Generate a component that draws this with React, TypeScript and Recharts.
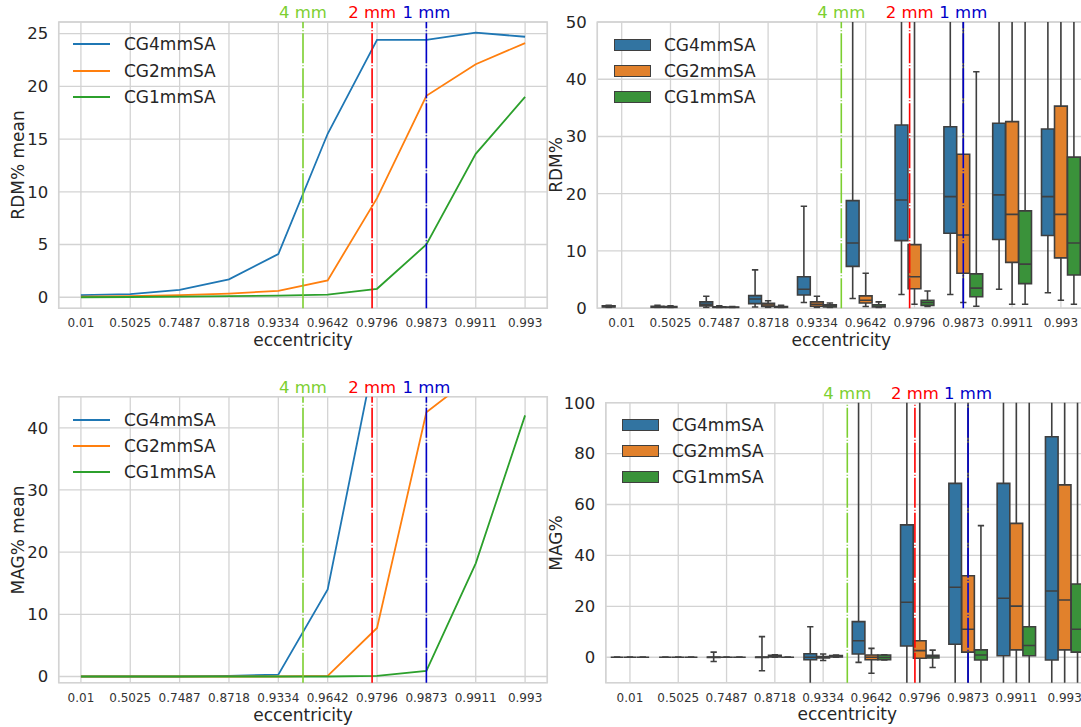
import React from 'react';
import {
  ComposedChart,
  Line,
  XAxis,
  YAxis,
  CartesianGrid,
  ReferenceLine,
  ReferenceArea,
} from 'recharts';

const eccentricities = ['0.01', '0.5025', '0.7487', '0.8718', '0.9334', '0.9642', '0.9796', '0.9873', '0.9911', '0.993'];
const seriesNames = ['CG4mmSA', 'CG2mmSA', 'CG1mmSA'];
const lineColors = ['#1f77b4', '#ff7f0e', '#2ca02c'];
const boxColors = ['#3274a1', '#e1812c', '#3a923a'];

// mean curves
const rdmMeanCG4 = [0.2, 0.3, 0.7, 1.7, 4.1, 15.5, 24.4, 24.4, 25.1, 24.7];
const rdmMeanCG2 = [0.05, 0.1, 0.2, 0.35, 0.6, 1.6, 9.4, 19.1, 22.1, 24.1];
const rdmMeanCG1 = [0.0, 0.02, 0.05, 0.1, 0.15, 0.25, 0.8, 5.0, 13.6, 19.0];

const magMeanCG4 = [0, 0, 0, 0.1, 0.3, 14, 53.5, 60, 62, 65];
const magMeanCG2 = [0, 0, 0, 0, 0, 0.1, 7.8, 42.5, 48.6, 52];
const magMeanCG1 = [0, 0, 0, 0, 0, 0, 0.1, 0.9, 18.2, 42];

// box stats: [whisker low, q1, median, q3, whisker high]
type Box = number[] | null;
const rdmBoxCG4: Box[] = [
  [0.1, 0.2, 0.3, 0.4, 0.5], [0.1, 0.15, 0.25, 0.35, 0.5], [0.1, 0.4, 0.7, 1.1, 2.1],
  [0.2, 0.8, 1.6, 2.2, 6.7], [1.0, 2.3, 3.3, 5.5, 17.8], [1.7, 7.3, 11.4, 18.8, 60],
  [2.4, 11.8, 18.9, 32.0, 70], [2.4, 13.1, 19.5, 31.7, 70], [3.3, 12.0, 19.8, 32.3, 70],
  [2.7, 12.7, 19.5, 31.3, 70],
];
const rdmBoxCG2: Box[] = [
  null, [0.05, 0.1, 0.2, 0.3, 0.4], [0.05, 0.1, 0.15, 0.25, 0.4],
  [0.1, 0.3, 0.55, 0.85, 1.3], [0.1, 0.35, 0.7, 1.1, 2.1], [0.3, 0.9, 1.4, 2.15, 6.1],
  [0.7, 3.4, 5.5, 11.1, 65], [1.0, 6.1, 12.8, 26.9, 55], [0.7, 8.0, 16.4, 32.6, 70],
  [1.4, 8.8, 16.4, 35.3, 70],
];
const rdmBoxCG1: Box[] = [
  null, null, [0.05, 0.1, 0.12, 0.2, 0.3],
  [0.05, 0.1, 0.2, 0.3, 0.5], [0.05, 0.2, 0.4, 0.6, 0.9], [0.05, 0.2, 0.35, 0.6, 1.1],
  [0.3, 0.5, 1.0, 1.4, 3.0], [0.35, 2.0, 3.5, 6.0, 41.3], [0.7, 4.3, 7.7, 17.0, 60],
  [0.7, 5.8, 11.4, 26.4, 60],
];

const magBoxCG4: Box[] = [
  [0, 0, 0, 0, 0], [0, 0, 0, 0, 0], [-1.7, -0.1, 0, 0.1, 2.0],
  [-5.3, -0.1, 0, 0.1, 8.1], [-12, -1.0, 0, 1.4, 12.0], [-2, 1.3, 6.5, 14.0, 150],
  [-12, 4.4, 21.6, 52.0, 150], [-12, 5.1, 27.5, 68.3, 150], [-12, 0.6, 23.2, 68.3, 150],
  [-12, -1.1, 26.0, 86.6, 150],
];
const magBoxCG2: Box[] = [
  [0, 0, 0, 0, 0], [0, 0, 0, 0, 0], [0, 0, 0, 0, 0],
  [0, 0.1, 0.4, 0.8, 1.0], [-1.3, -0.3, 0, 0.3, 1.3], [-6.3, -1.0, 0, 0.9, 3.5],
  [-12, -0.4, 2.6, 6.5, 150], [-12, 2.0, 11.0, 32.0, 150], [-12, 2.9, 20.1, 52.6, 150],
  [-12, 2.9, 22.5, 67.7, 150],
];
const magBoxCG1: Box[] = [
  [0, 0, 0, 0, 0], [0, 0, 0, 0, 0], [0, 0, 0, 0, 0],
  [0, 0, 0, 0, 0], [0, 0.1, 0.4, 0.7, 0.9], [-1.1, -1.0, -0.1, 0.9, 1.0],
  [-4.0, -0.3, 0.3, 0.8, 2.8], [-12, -1.1, 0.9, 2.9, 51.7], [-12, 0.6, 4.6, 12.0, 150],
  [-12, 2.0, 11.0, 28.8, 150],
];

// resolution thresholds, in category units
const mmPositions = [4.5, 5.9, 7.0];
const mmLabels = ['4 mm', '2 mm', '1 mm'];
const mmColors = ['#7ccf30', '#ff0000', '#0000c8'];

const rdmMeanTicks = [0, 5, 10, 15, 20, 25];
const rdmBoxTicks = [0, 10, 20, 30, 40, 50];
const magMeanTicks = [0, 10, 20, 30, 40];
const magBoxTicks = [0, 20, 40, 60, 80, 100];

const TEXT = '#262626';
const GRID = '#d3d3d3';
const EDGE = '#3f3f3f';
const HUE_WIDTH = 0.8 / 3;
const FONT = '"DejaVu Sans", sans-serif';

const catTicks = eccentricities.map((_, i) => i);

const meanData = (a: number[], b: number[], c: number[]) =>
  eccentricities.map((_, i) => ({ x: i, cg4: a[i], cg2: b[i], cg1: c[i] }));
const rdmMeanData = meanData(rdmMeanCG4, rdmMeanCG2, rdmMeanCG1);
const magMeanData = meanData(magMeanCG4, magMeanCG2, magMeanCG1);
const catData = eccentricities.map((_, i) => ({ x: i }));

const renderLines = () =>
  ['cg4', 'cg2', 'cg1'].map((key, i) => (
    <Line
      key={key}
      type="linear"
      dataKey={key}
      name={seriesNames[i]}
      stroke={lineColors[i]}
      strokeWidth={1.8}
      dot={false}
      activeDot={false}
      isAnimationActive={false}
    />
  ));

const renderBoxes = (groups: Box[][]) => {
  const half = (HUE_WIDTH * 0.98) / 2;
  const out: React.ReactNode[] = [];
  groups.forEach((series, h) => {
    series.forEach((b, i) => {
      if (!b) return;
      const [lo, q1, med, q3, hi] = b;
      const c = i + (h - 1) * HUE_WIDTH;
      const k = `${h}-${i}`;
      const edge = { stroke: EDGE, strokeWidth: 1.6, ifOverflow: 'hidden' as const };
      out.push(
        <ReferenceLine key={`lw${k}`} segment={[{ x: c, y: lo }, { x: c, y: q1 }]} {...edge} />,
        <ReferenceLine key={`hw${k}`} segment={[{ x: c, y: q3 }, { x: c, y: hi }]} {...edge} />,
        <ReferenceLine key={`lc${k}`} segment={[{ x: c - half / 2, y: lo }, { x: c + half / 2, y: lo }]} {...edge} />,
        <ReferenceLine key={`hc${k}`} segment={[{ x: c - half / 2, y: hi }, { x: c + half / 2, y: hi }]} {...edge} />,
        <ReferenceArea key={`bx${k}`} x1={c - half} x2={c + half} y1={q1} y2={q3} fill={boxColors[h]} fillOpacity={1} {...edge} />,
        <ReferenceLine key={`md${k}`} segment={[{ x: c - half, y: med }, { x: c + half, y: med }]} {...edge} />
      );
    });
  });
  return out;
};

type PanelProps = {
  left: number;
  top: number;
  width: number;
  height: number;
  plot: { x0: number; y0: number; x1: number; y1: number };
  xDomain: [number, number];
  yDomain: [number, number];
  yTicks: number[];
  data: any[];
  children: React.ReactNode;
};

const Panel = ({ left, top, width, height, plot, xDomain, yDomain, yTicks, data, children }: PanelProps) => {
  const axisH = 40;
  return (
    <div style={{ position: 'absolute', left, top, width, height }}>
      <ComposedChart
        width={width}
        height={height}
        data={data}
        margin={{ top: plot.y0 - top, right: left + width - plot.x1, bottom: top + height - plot.y1 - axisH, left: 0 }}
      >
        <CartesianGrid stroke={GRID} strokeWidth={1.3} />
        <XAxis
          dataKey="x"
          type="number"
          domain={xDomain}
          ticks={catTicks}
          interval={0}
          allowDataOverflow
          tickFormatter={(v) => eccentricities[v] ?? ''}
          axisLine={false}
          tickLine={false}
          tickSize={0}
          tickMargin={10.5}
          height={axisH}
          tick={{ fontSize: 12, fill: '#333333', fontFamily: FONT }}
        />
        <YAxis
          type="number"
          domain={yDomain}
          ticks={yTicks}
          interval={0}
          allowDataOverflow
          axisLine={false}
          tickLine={false}
          tickSize={0}
          tickMargin={10.5}
          width={plot.x0 - left}
          tick={{ fontSize: 16.5, fill: TEXT, fontFamily: FONT }}
        />
        <ReferenceArea
          x1={xDomain[0]}
          x2={xDomain[1]}
          y1={yDomain[0]}
          y2={yDomain[1]}
          fill="none"
          stroke={GRID}
          strokeWidth={1.5}
          ifOverflow="visible"
        />
        {children}
        {mmPositions.map((pos, i) => (
          <ReferenceLine
            key={mmLabels[i]}
            x={pos}
            stroke={mmColors[i]}
            strokeWidth={1.6}
            strokeDasharray="30 2 1 2"
            label={{ value: mmLabels[i], position: 'top', fill: mmColors[i], fontSize: 16.5, offset: 4, fontFamily: FONT }}
          />
        ))}
      </ComposedChart>
    </div>
  );
};

const LegendOverlay = ({ x, rows, textX, kind }: { x: number; rows: number[]; textX: number; kind: 'line' | 'box' }) => (
  <>
    {seriesNames.map((name, i) => (
      <React.Fragment key={name}>
        {kind === 'line' ? (
          <div style={{ position: 'absolute', left: x, top: rows[i] - 0.9, width: 37, height: 1.8, background: lineColors[i] }} />
        ) : (
          <div
            style={{
              position: 'absolute',
              left: x,
              top: rows[i] - 6,
              width: 37,
              height: 12,
              background: boxColors[i],
              border: `1.6px solid ${EDGE}`,
              boxSizing: 'border-box',
            }}
          />
        )}
        <div
          style={{
            position: 'absolute',
            left: textX,
            top: rows[i],
            transform: 'translateY(-50%)',
            fontSize: 17,
            lineHeight: 1,
            color: TEXT,
            whiteSpace: 'nowrap',
          }}
        >
          {name}
        </div>
      </React.Fragment>
    ))}
  </>
);

const Title = ({ x, y, text, vertical }: { x: number; y: number; text: string; vertical?: boolean }) => (
  <div
    style={{
      position: 'absolute',
      left: x,
      top: y,
      transform: `translate(-50%, -50%)${vertical ? ' rotate(-90deg)' : ''}`,
      fontSize: 17,
      lineHeight: 1,
      color: TEXT,
      whiteSpace: 'nowrap',
    }}
  >
    {text}
  </div>
);

export default function App() {
  return (
    <div
      style={{
        position: 'fixed',
        left: 0,
        top: 0,
        width: 1081,
        height: 727,
        overflow: 'hidden',
        background: '#ffffff',
        fontFamily: FONT,
      }}
    >
      <Panel
        left={0}
        top={0}
        width={560}
        height={360}
        plot={{ x0: 58.7, y0: 22, x1: 547.3, y1: 308.3 }}
        xDomain={[-0.45, 9.45]}
        yDomain={[-1.05, 26.1]}
        yTicks={rdmMeanTicks}
        data={rdmMeanData}
      >
        {renderLines()}
      </Panel>
      <Panel
        left={540}
        top={0}
        width={560}
        height={360}
        plot={{ x0: 597.3, y0: 22, x1: 1085.3, y1: 308.2 }}
        xDomain={[-0.5, 9.5]}
        yDomain={[0, 50]}
        yTicks={rdmBoxTicks}
        data={catData}
      >
        {renderBoxes([rdmBoxCG4, rdmBoxCG2, rdmBoxCG1])}
      </Panel>
      <Panel
        left={0}
        top={360}
        width={560}
        height={367}
        plot={{ x0: 58.7, y0: 396.7, x1: 547.3, y1: 682.7 }}
        xDomain={[-0.45, 9.45]}
        yDomain={[-1, 45]}
        yTicks={magMeanTicks}
        data={magMeanData}
      >
        {renderLines()}
      </Panel>
      <Panel
        left={540}
        top={360}
        width={560}
        height={367}
        plot={{ x0: 605.8, y0: 402.7, x1: 1088.8, y1: 682.7 }}
        xDomain={[-0.5, 9.5]}
        yDomain={[-10, 100]}
        yTicks={magBoxTicks}
        data={catData}
      >
        {renderBoxes([magBoxCG4, magBoxCG2, magBoxCG1])}
      </Panel>

      <LegendOverlay kind="line" x={73.3} rows={[44.3, 70.7, 96.7]} textX={124} />
      <LegendOverlay kind="box" x={614} rows={[45, 71, 97]} textX={664} />
      <LegendOverlay kind="line" x={73.3} rows={[420, 446, 472]} textX={124} />
      <LegendOverlay kind="box" x={622} rows={[425, 450.7, 476.7]} textX={672} />

      <Title x={17.5} y={165} text="RDM% mean" vertical />
      <Title x={555.5} y={165} text="RDM%" vertical />
      <Title x={17.5} y={540} text="MAG% mean" vertical />
      <Title x={556} y={543} text="MAG%" vertical />
      <Title x={303} y={340} text="eccentricity" />
      <Title x={841.3} y={340} text="eccentricity" />
      <Title x={303} y={715} text="eccentricity" />
      <Title x={847.3} y={714} text="eccentricity" />
    </div>
  );
}
